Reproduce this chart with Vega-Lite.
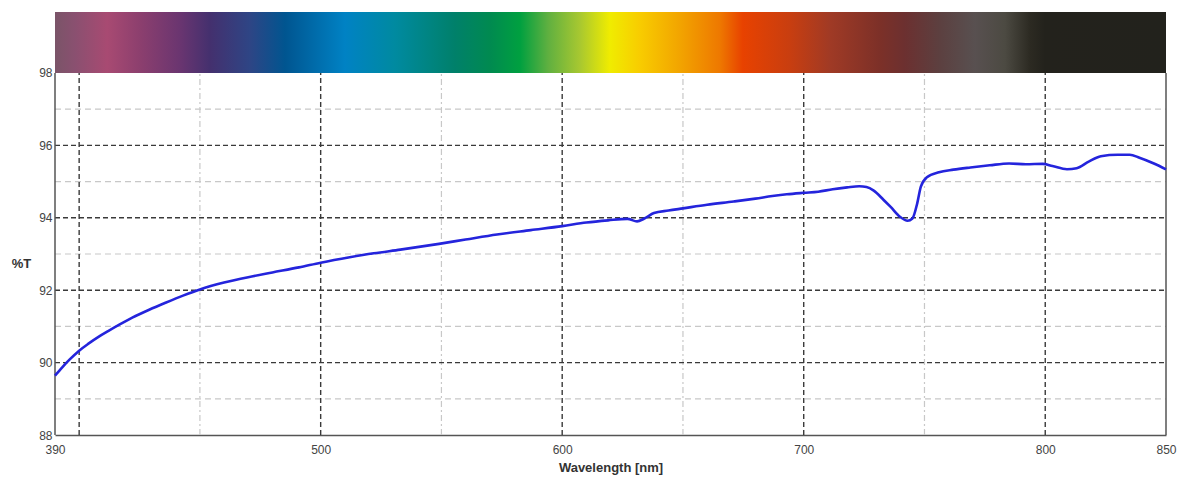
{
  "$schema": "https://vega.github.io/schema/vega-lite/v6.json",
  "width": 1111,
  "height": 423,
  "autosize": {"type": "none"},
  "padding": {"left": 55, "top": 12, "right": 14, "bottom": 42},
  "background": "white",
  "config": {"view": {"stroke": null}, "font": "Liberation Sans"},
  "datasets": {
    "spectrum": [
      {"wl": 390, "T": 89.64}, {"wl": 393, "T": 89.87}, {"wl": 396, "T": 90.08}, {"wl": 400, "T": 90.33},
      {"wl": 404, "T": 90.53}, {"wl": 408, "T": 90.71}, {"wl": 412, "T": 90.87}, {"wl": 417, "T": 91.06},
      {"wl": 422, "T": 91.24}, {"wl": 429, "T": 91.46}, {"wl": 436, "T": 91.66}, {"wl": 443, "T": 91.85},
      {"wl": 450, "T": 92.02}, {"wl": 460, "T": 92.21}, {"wl": 470, "T": 92.36}, {"wl": 480, "T": 92.49},
      {"wl": 491, "T": 92.63}, {"wl": 500, "T": 92.76}, {"wl": 512, "T": 92.91}, {"wl": 522, "T": 93.02},
      {"wl": 533, "T": 93.12}, {"wl": 549, "T": 93.28}, {"wl": 560, "T": 93.40}, {"wl": 573, "T": 93.54},
      {"wl": 587, "T": 93.66}, {"wl": 600, "T": 93.77}, {"wl": 610, "T": 93.87}, {"wl": 619, "T": 93.93},
      {"wl": 627, "T": 93.97}, {"wl": 631, "T": 93.90}, {"wl": 634, "T": 93.98}, {"wl": 638, "T": 94.13},
      {"wl": 644, "T": 94.20}, {"wl": 650, "T": 94.26}, {"wl": 660, "T": 94.36}, {"wl": 671, "T": 94.45},
      {"wl": 680, "T": 94.53}, {"wl": 687, "T": 94.60}, {"wl": 693, "T": 94.65}, {"wl": 700, "T": 94.69},
      {"wl": 706, "T": 94.72}, {"wl": 712, "T": 94.79}, {"wl": 718, "T": 94.84}, {"wl": 723, "T": 94.87},
      {"wl": 726, "T": 94.85}, {"wl": 729, "T": 94.75}, {"wl": 733, "T": 94.50}, {"wl": 736, "T": 94.30},
      {"wl": 740, "T": 94.02}, {"wl": 743, "T": 93.92}, {"wl": 745, "T": 93.98}, {"wl": 747, "T": 94.40},
      {"wl": 748.5, "T": 94.86}, {"wl": 751, "T": 95.12}, {"wl": 756, "T": 95.26}, {"wl": 762, "T": 95.33},
      {"wl": 769, "T": 95.39}, {"wl": 777, "T": 95.45}, {"wl": 785, "T": 95.50}, {"wl": 792, "T": 95.48},
      {"wl": 799, "T": 95.49}, {"wl": 803, "T": 95.43}, {"wl": 809, "T": 95.34}, {"wl": 813, "T": 95.37},
      {"wl": 818, "T": 95.55}, {"wl": 823, "T": 95.70}, {"wl": 830, "T": 95.74}, {"wl": 835, "T": 95.74},
      {"wl": 839, "T": 95.66}, {"wl": 845, "T": 95.50}, {"wl": 850, "T": 95.34}
    ],
    "hminor": [{"g": 89}, {"g": 91}, {"g": 93}, {"g": 95}, {"g": 97}],
    "hmajor": [{"g": 90}, {"g": 92}, {"g": 94}, {"g": 96}],
    "vminor": [{"g": 450}, {"g": 550}, {"g": 650}, {"g": 750}],
    "vmajor": [{"g": 400}, {"g": 500}, {"g": 600}, {"g": 700}, {"g": 800}],
    "frame": [{"g": 390}, {"g": 850}]
  },
  "layer": [
    {
      "data": {"name": "hminor"},
      "mark": {"type": "rule", "color": "#c8c8c8", "strokeWidth": 1.2, "strokeDash": [6, 4]},
      "encoding": {
        "y": {"field": "g", "type": "quantitative"},
        "x": {"datum": 390, "type": "quantitative"},
        "x2": {"datum": 850}
      }
    },
    {
      "data": {"name": "vminor"},
      "mark": {"type": "rule", "color": "#c8c8c8", "strokeWidth": 1.2, "strokeDash": [6, 3, 2, 3]},
      "encoding": {
        "x": {"field": "g", "type": "quantitative"},
        "y": {"datum": 88, "type": "quantitative"},
        "y2": {"datum": 98}
      }
    },
    {
      "data": {"name": "hmajor"},
      "mark": {"type": "rule", "color": "#3a3a3a", "strokeWidth": 1.4, "strokeDash": [5, 3]},
      "encoding": {
        "y": {"field": "g", "type": "quantitative"},
        "x": {"datum": 390, "type": "quantitative"},
        "x2": {"datum": 850}
      }
    },
    {
      "data": {"name": "vmajor"},
      "mark": {"type": "rule", "color": "#3a3a3a", "strokeWidth": 1.4, "strokeDash": [5, 3]},
      "encoding": {
        "x": {"field": "g", "type": "quantitative"},
        "y": {"datum": 88, "type": "quantitative"},
        "y2": {"datum": 98}
      }
    },
    {
      "data": {"name": "frame"},
      "mark": {"type": "rule", "color": "#555555", "strokeWidth": 1.5},
      "encoding": {
        "x": {"field": "g", "type": "quantitative"},
        "y": {"datum": 88, "type": "quantitative"},
        "y2": {"datum": 98}
      }
    },
    {
      "data": {"values": [{}]},
      "mark": {
        "type": "rect",
        "strokeWidth": 0,
        "fill": {
          "gradient": "linear", "x1": 0, "y1": 0, "x2": 1, "y2": 0,
          "stops": [
            {"offset": 0, "color": "#7a5468"},
            {"offset": 0.018, "color": "#8a5070"},
            {"offset": 0.047, "color": "#a84a72"},
            {"offset": 0.0765, "color": "#8c3f6e"},
            {"offset": 0.1125, "color": "#6a3570"},
            {"offset": 0.1395, "color": "#44306e"},
            {"offset": 0.1755, "color": "#2e4585"},
            {"offset": 0.207, "color": "#005590"},
            {"offset": 0.261, "color": "#0082c4"},
            {"offset": 0.306, "color": "#008aa0"},
            {"offset": 0.36, "color": "#00806a"},
            {"offset": 0.3915, "color": "#008a50"},
            {"offset": 0.4185, "color": "#00a040"},
            {"offset": 0.444, "color": "#60b040"},
            {"offset": 0.4725, "color": "#a8c830"},
            {"offset": 0.4995, "color": "#f0ec00"},
            {"offset": 0.5266, "color": "#f8cc00"},
            {"offset": 0.5626, "color": "#f2a400"},
            {"offset": 0.5986, "color": "#ee7800"},
            {"offset": 0.619, "color": "#e84200"},
            {"offset": 0.6616, "color": "#c83e10"},
            {"offset": 0.6976, "color": "#a03a25"},
            {"offset": 0.7426, "color": "#7c3028"},
            {"offset": 0.765, "color": "#6c3030"},
            {"offset": 0.7966, "color": "#5c4040"},
            {"offset": 0.828, "color": "#585050"},
            {"offset": 0.855, "color": "#4c4a42"},
            {"offset": 0.8776, "color": "#2c2a22"},
            {"offset": 0.891, "color": "#23221c"},
            {"offset": 1, "color": "#22221c"}
          ]
        }
      },
      "encoding": {
        "x": {"datum": 390, "type": "quantitative"},
        "x2": {"datum": 850},
        "y": {"datum": 98, "type": "quantitative"},
        "y2": {"datum": 99.685}
      }
    },
    {
      "data": {"name": "spectrum"},
      "mark": {"type": "line", "color": "#2424dc", "strokeWidth": 2.6, "interpolate": "monotone"},
      "encoding": {
        "x": {
          "field": "wl", "type": "quantitative",
          "scale": {"domain": [390, 850], "nice": false, "zero": false},
          "axis": {
            "title": "Wavelength [nm]",
            "values": [390, 500, 600, 700, 800, 850],
            "grid": false, "ticks": false,
            "domain": true, "domainColor": "#555555", "domainWidth": 1.5,
            "labelFont": "Liberation Sans", "labelFontSize": 12, "labelColor": "#444444",
            "labelPadding": 9, "labelFlush": false, "labelOverlap": false,
            "titleFont": "Liberation Sans", "titleFontSize": 13, "titleFontWeight": "bold", "titleColor": "#333333",
            "titleY": 32, "titleBaseline": "middle"
          }
        },
        "y": {
          "field": "T", "type": "quantitative",
          "scale": {"domain": [88, 99.685], "nice": false, "zero": false},
          "axis": {
            "title": "%T",
            "values": [88, 90, 92, 94, 96, 98],
            "grid": false, "ticks": false, "domain": false,
            "labelFont": "Liberation Sans", "labelFontSize": 12, "labelColor": "#444444",
            "labelPadding": 3, "labelFlush": false, "labelOverlap": false,
            "titleFont": "Liberation Sans", "titleFontSize": 13, "titleFontWeight": "bold", "titleColor": "#333333",
            "titleAngle": 0, "titleAlign": "center", "titleBaseline": "middle",
            "titleX": -34, "titleY": 251
          }
        }
      }
    }
  ]
}
